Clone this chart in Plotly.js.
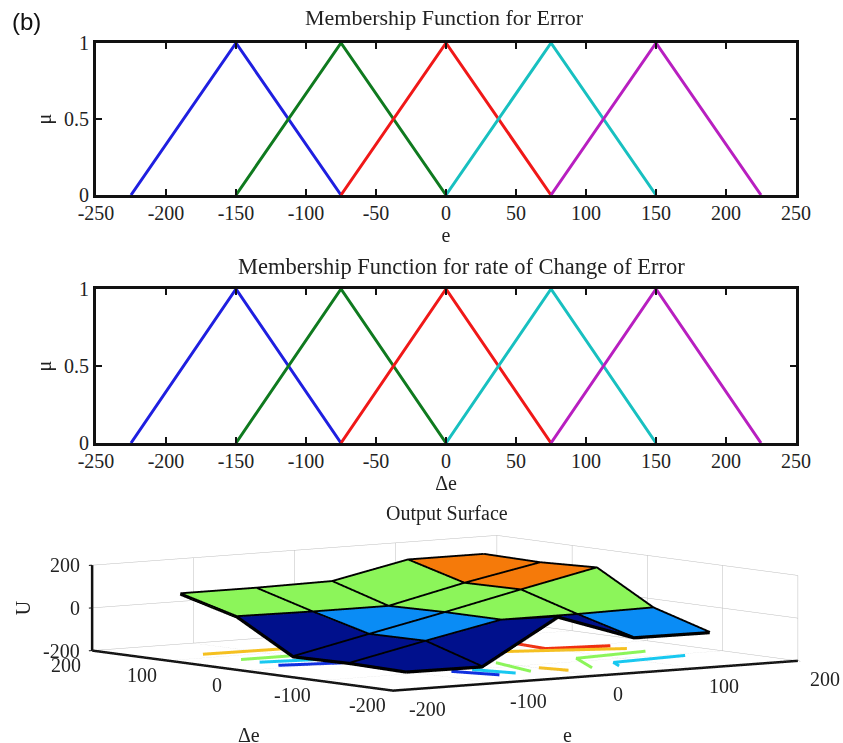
<!DOCTYPE html>
<html><head><meta charset="utf-8">
<script src="https://cdn.plot.ly/plotly-3.0.1.min.js"></script>
<style>html,body{margin:0;padding:0;background:#fff}</style></head>
<body><div id="chart" style="width:843px;height:743px"></div>
<script>
const mfX = [[-225,-150,-75],[-150,-75,0],[-75,0,75],[0,75,150],[75,150,225]];
const mfY = [0,1,0];
const mfColors = ['#1f1fe0','#0f7a1f','#f01818','#18c0c0','#b81fc0'];
const xTicks = [-250,-200,-150,-100,-50,0,50,100,150,200,250];
const yTicks = [0,0.5,1];
const eTicks = [-200,-100,0,100,200];
const dTicks = [-200,-100,0,100,200];
const uTicks = [-200,0,200];
const eGrid = [-150,-75,0,75,150];
const dGrid = [150,75,0,-75,-150];
const uGrid = [
 [70,70,75,150,150],
 [-2,-6,-6,76,146],
 [-154,-76,0,80,157],
 [-150,-73,0,0,5],
 [-155,-157,50,-73,-75]];
const cellColors = [
 ['#8cf55a','#8cf55a','#8cf55a','#f57a0a'],
 ['#00108c','#0a8cf5','#8cf55a','#f57a0a'],
 ['#00108c','#0a8cf5','#8cf55a','#8cf55a'],
 ['#00108c','#00108c','#00108c','#0a8cf5']];
const floorLines = [
 {e:[-147,-72],d:[124,121],c:'#f5c020'},
 {e:[-148,-100],d:[72,72],c:'#8cf55a'},
 {e:[-149,-95],d:[46,35],c:'#18c8f0'},
 {e:[-152,-98],d:[17,2],c:'#1030e0'},
 {e:[-71,-57],d:[-104,-149],c:'#1030e0'},
 {e:[-49,-38],d:[-102,-145],c:'#18c8f0'},
 {e:[-1,-20],d:[-69,-141],c:'#8cf55a'},
 {e:[2,9],d:[-122,-152],c:'#f5c020'},
 {e:[103,98,153],d:[46,-2,-14],c:'#f03010'},
 {e:[59,150],d:[-2,-40],c:'#f5c020'},
 {e:[36,71,149],d:[-147,-79,-66],c:'#8cf55a'},
 {e:[62,75,154],d:[-148,-123,-112],c:'#18c8f0'}
];
const serif = '"Liberation Serif", serif';
const W=843,H=743;
const traces=[];
[['x','y'],['x2','y2']].forEach(a=>{
  mfX.forEach((xs,i)=>traces.push({type:'scatter',mode:'lines',x:xs,y:mfY,xaxis:a[0],yaxis:a[1],
    line:{color:mfColors[i],width:3},hoverinfo:'skip',showlegend:false}));
});
const vx=[],vy=[],vz=[],ii=[],jj=[],kk=[],fc=[];
dGrid.forEach((d,r)=>eGrid.forEach((e,c)=>{vx.push(e);vy.push(d);vz.push(uGrid[r][c]);}));
for(let r=0;r<4;r++)for(let c=0;c<4;c++){
  const a=r*5+c,b=a+1,cc=a+5,dd=cc+1;
  ii.push(a,b);jj.push(b,dd);kk.push(cc,cc);fc.push(cellColors[r][c],cellColors[r][c]);
}
traces.push({type:'mesh3d',x:vx,y:vy,z:vz,i:ii,j:jj,k:kk,facecolor:fc,flatshading:true,
  lighting:{ambient:1,diffuse:0,specular:0,fresnel:0,roughness:1},hoverinfo:'skip',showscale:false,scene:'scene'});
const lx=[],ly=[],lz=[];
dGrid.forEach((d,r)=>{eGrid.forEach((e,c)=>{lx.push(e);ly.push(d);lz.push(uGrid[r][c]+1);});lx.push(null);ly.push(null);lz.push(null);});
eGrid.forEach((e,c)=>{dGrid.forEach((d,r)=>{lx.push(e);ly.push(d);lz.push(uGrid[r][c]+1);});lx.push(null);ly.push(null);lz.push(null);});
traces.push({type:'scatter3d',mode:'lines',x:lx,y:ly,z:lz,line:{color:'#000',width:6.5},hoverinfo:'skip',showlegend:false,scene:'scene'});
floorLines.forEach(f=>traces.push({type:'scatter3d',mode:'lines',x:f.e,y:f.d,z:f.e.map(()=>-200),
  line:{color:f.c,width:6},hoverinfo:'skip',showlegend:false,scene:'scene'}));

const tf={family:serif,size:20,color:'#222'};
function ax2(dom,anchor,title){return {domain:dom,anchor:anchor,range:[-250,250],tickmode:'array',tickvals:xTicks,ticktext:xTicks.map(String),
  ticks:'inside',ticklen:6,tickwidth:2,tickcolor:'#111',showline:true,linewidth:3,linecolor:'#111',mirror:'ticks',showgrid:false,zeroline:false,
  ticklabelstandoff:-2,tickfont:tf,title:{text:title,font:tf,standoff:0}};}
function ay2(dom,anchor){return {domain:dom,anchor:anchor,range:[0,1],tickmode:'array',tickvals:yTicks,ticktext:yTicks.map(String),
  ticks:'inside',ticklen:6,tickwidth:2,tickcolor:'#111',showline:true,linewidth:3,linecolor:'#111',mirror:'ticks',showgrid:false,zeroline:false,
  tickfont:tf,title:{text:'μ',font:tf,standoff:8}};}
function ax3(rng,vals){return {title:{text:''},range:rng,tickmode:'array',tickvals:vals,showticklabels:false,
  showgrid:true,gridcolor:'#bdbdbd',gridwidth:1,
  showline:true,linecolor:'#111',linewidth:5,zeroline:false,showbackground:false,showspikes:false,ticks:'outside',ticklen:4,tickcolor:'#111',tickwidth:2};}
const titleAnn=(t,x,y,s)=>({text:t,xref:'paper',yref:'paper',x:x/W,y:1-y/H,xanchor:'center',yanchor:'middle',showarrow:false,font:{family:serif,size:s,color:'#222'}});
const sa=(t,x,y,z,xs,ys,extra)=>Object.assign({text:t,x:x,y:y,z:z,xshift:xs,yshift:ys,showarrow:false,xanchor:'center',yanchor:'middle',font:tf},extra||{});
const sceneAnn=[
  ...eTicks.map(v=>sa(String(v),v,-200,-200,v<0?34:(v===0?22:27),-18)),
  ...dTicks.map(v=>sa(String(v),-200,v,-200,-26,-14)),
  ...uTicks.map(v=>sa(String(v),-200,200,v,-10,0,{xanchor:'right'})),
  sa('e',-50,-200,-200,22,-56),
  sa('Δe',-200,50,-200,44,-69),
  sa('U',-200,200,0,-69,0,{textangle:-90})
];
const layout={width:W,height:H,margin:{l:0,r:0,t:0,b:0},paper_bgcolor:'#fff',plot_bgcolor:'#fff',showlegend:false,
 xaxis:ax2([96/W,796/W],'y','e'),yaxis:ay2([1-195/H,1-43/H],'x'),
 xaxis2:ax2([96/W,796/W],'y2','Δe'),yaxis2:ay2([1-443/H,1-289/H],'x2'),
 scene:{domain:{x:[0.056,1.0],y:[0,0.35]},aspectmode:'manual',aspectratio:{x:3.88,y:3.88,z:0.66},
  camera:{projection:{type:'orthographic'},eye:{x:-3.6,y:-4.84,z:0.6},center:{x:0,y:0,z:0},up:{x:0,y:0,z:1}},
  xaxis:ax3([-200,200],eTicks),yaxis:ax3([-200,200],dTicks),zaxis:ax3([-200,200],uTicks),
  annotations:sceneAnn},
 annotations:[
  {text:'(b)',xref:'paper',yref:'paper',x:26/W,y:1-21/H,xanchor:'center',yanchor:'middle',showarrow:false,font:{family:'"Liberation Sans", Arial, sans-serif',size:24,color:'#111'}},
  titleAnn('Membership Function for Error',445,18,22),
  titleAnn('Membership Function for rate of Change of Error',461,266,22.5),
  titleAnn('Output Surface',447,513,20)]};
Plotly.newPlot('chart',traces,layout,{displayModeBar:false});
</script></body></html>
